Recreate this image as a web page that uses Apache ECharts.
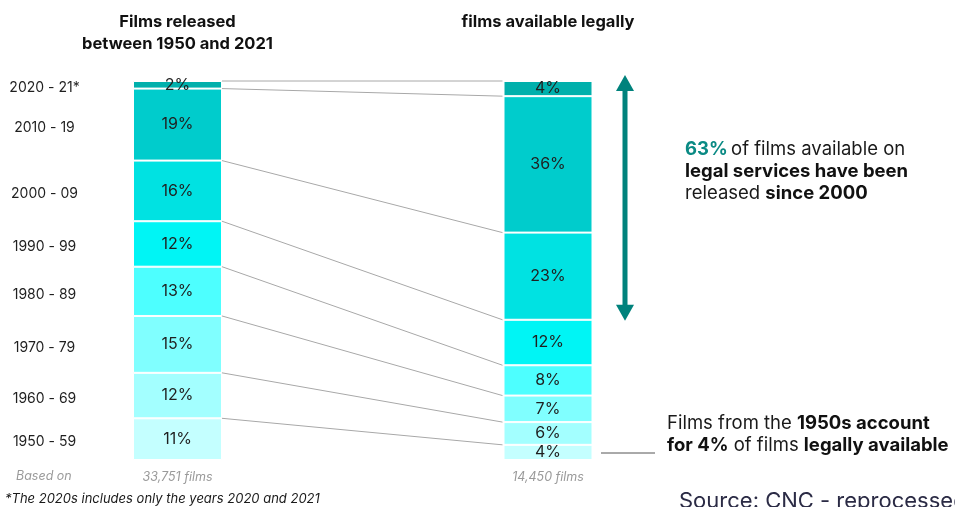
<!DOCTYPE html>
<html>
<head>
<meta charset="utf-8">
<title>Films released vs films available legally</title>
<script src="https://cdn.jsdelivr.net/npm/echarts@6/dist/echarts.min.js"></script>
<style>
  html, body { margin: 0; padding: 0; background: #fff; }
  #chart { width: 955px; height: 507px; }
</style>
</head>
<body>
<div id="chart"></div>
<script>
// decades, bottom to top
const periods = ['1950 - 59', '1960 - 69', '1970 - 79', '1980 - 89', '1990 - 99', '2000 - 09', '2010 - 19', '2020 - 21*'];
const released = [11, 12, 15, 13, 12, 16, 19, 2];   // % of films released 1950-2021
const legal = [4, 6, 7, 8, 12, 23, 36, 4];          // % of films available legally
const colors = ['#c4ffff', '#a3ffff', '#80ffff', '#4dffff', '#00f5f5', '#00e2e2', '#00cccc', '#00b0ac'];
const columns = ['Films released\nbetween 1950 and 2021', 'films available legally'];
const totals = ['33,751 films', '14,450 films'];
const since2000 = 63;

const FONT = 'Inter, "Noto Sans", sans-serif';
const BAR_W = 89;

// cumulative boundaries for the connector lines
let cumL = 0, cumR = 0;
const bounds = [];
for (let i = 0; i < periods.length; i++) {
    cumL += released[i];
    cumR += legal[i];
    bounds.push([cumL, cumR]);
}
const mids = [];
let acc = 0;
for (let i = 0; i < periods.length; i++) {
    mids.push([0, acc + released[i] / 2, i]);
    acc += released[i];
}

const barSeries = periods.map((p, i) => ({
    name: p,
    type: 'bar',
    stack: 'total',
    barWidth: BAR_W,
    clip: false,
    data: [released[i], legal[i]],
    itemStyle: { color: colors[i], borderColor: '#fff', borderWidth: 1 },
    label: {
        show: true,
        position: 'inside',
        formatter: '{c}%',
        color: '#1f1f1f',
        fontSize: 16,
        fontFamily: FONT
    },
    z: 3
}));

const chart = echarts.init(document.getElementById('chart'));
chart.setOption({
    animation: false,
    grid: { left: 177.5, right: 407, top: 81, bottom: 47 },
    xAxis: [{
        type: 'category', data: columns, boundaryGap: false, position: 'top',
        axisLine: { show: false }, axisTick: { show: false }, splitLine: { show: false },
        axisLabel: {
            margin: 70, verticalAlign: 'top', align: 'center', interval: 0,
            fontFamily: FONT, fontWeight: 'bold', fontSize: 16.5, color: '#111', lineHeight: 22
        }
    }, {
        type: 'category', data: totals, boundaryGap: false, position: 'bottom',
        axisLine: { show: false }, axisTick: { show: false }, splitLine: { show: false },
        axisLabel: {
            margin: 11, interval: 0,
            fontFamily: FONT, fontStyle: 'italic', fontSize: 12.5, color: '#9a9a9a'
        }
    }],
    yAxis: { type: 'value', min: 0, max: 100, show: false },
    series: barSeries.concat([{
        type: 'custom',
        coordinateSystem: 'cartesian2d',
        data: bounds,
        z: 1,
        renderItem: (params, api) => {
            const a = api.coord([0, api.value(0)]);
            const b = api.coord([1, api.value(1)]);
            return {
                type: 'line',
                shape: { x1: a[0] + BAR_W / 2, y1: a[1], x2: b[0] - BAR_W / 2 - 1, y2: b[1] },
                style: { stroke: '#a8a8a8', lineWidth: 1 }
            };
        }
    }, {
        type: 'custom',
        coordinateSystem: 'cartesian2d',
        data: mids,
        renderItem: (params, api) => {
            const p = api.coord([0, api.value(1)]);
            return {
                type: 'text',
                x: p[0] - 133,
                y: p[1] + 3,
                style: {
                    text: periods[api.value(2)],
                    align: 'center', verticalAlign: 'middle',
                    fill: '#1f1f1f', font: '14px ' + FONT
                }
            };
        }
    }, {
        // double arrow spanning the share released since 2000
        type: 'custom',
        coordinateSystem: 'cartesian2d',
        data: [[1, 100 - since2000, 100]],
        renderItem: (params, api) => {
            const lo = api.coord([1, api.value(1)]);
            const hi = api.coord([1, api.value(2)]);
            const x = lo[0] + 77;
            const yTop = hi[1] - 6, yBot = lo[1] + 1;
            const c = '#00827c';
            return {
                type: 'group',
                children: [{
                    type: 'line',
                    shape: { x1: x, y1: yTop + 10, x2: x, y2: yBot - 10 },
                    style: { stroke: c, lineWidth: 5 }
                }, {
                    type: 'polygon',
                    shape: { points: [[x, yTop], [x - 9, yTop + 16], [x + 9, yTop + 16]] },
                    style: { fill: c }
                }, {
                    type: 'polygon',
                    shape: { points: [[x, yBot], [x - 9, yBot - 16], [x + 9, yBot - 16]] },
                    style: { fill: c }
                }]
            };
        }
    }]),
    graphic: [{
        type: 'text', left: 685, top: 140,
        style: {
            text: '{t|63%} {n|of films available on}\n{b|legal services have been}\n{n|released }{b|since 2000}',
            rich: {
                t: { fontFamily: FONT, fontWeight: 'bold', fontSize: 18.5, fill: '#0a8a84', lineHeight: 22 },
                n: { fontFamily: FONT, fontSize: 18.5, fill: '#1a1a1a', lineHeight: 22 },
                b: { fontFamily: FONT, fontWeight: 'bold', fontSize: 18.5, fill: '#111', lineHeight: 22 }
            }
        }
    }, {
        type: 'text', left: 667, top: 414,
        style: {
            text: '{n|Films from the }{b|1950s account}\n{b|for 4%}{n| of films }{b|legally available}',
            rich: {
                n: { fontFamily: FONT, fontSize: 18.5, fill: '#1a1a1a', lineHeight: 22 },
                b: { fontFamily: FONT, fontWeight: 'bold', fontSize: 18.5, fill: '#111', lineHeight: 22 }
            }
        }
    }, {
        type: 'line',
        shape: { x1: 601, y1: 453, x2: 655, y2: 453 },
        style: { stroke: '#555', lineWidth: 1 }
    }, {
        type: 'text', left: 16, top: 470,
        style: { text: 'Based on', font: 'italic 12.5px ' + FONT, fill: '#9a9a9a' }
    }, {
        type: 'text', left: 5, top: 493,
        style: { text: '*The 2020s includes only the years 2020 and 2021', font: 'italic 13px ' + FONT, fill: '#1a1a1a' }
    }, {
        type: 'text', left: 679, top: 490,
        style: { text: 'Source: CNC - reprocessed', font: '22px ' + FONT, fill: '#2b2b45' }
    }]
});
</script>
</body>
</html>
